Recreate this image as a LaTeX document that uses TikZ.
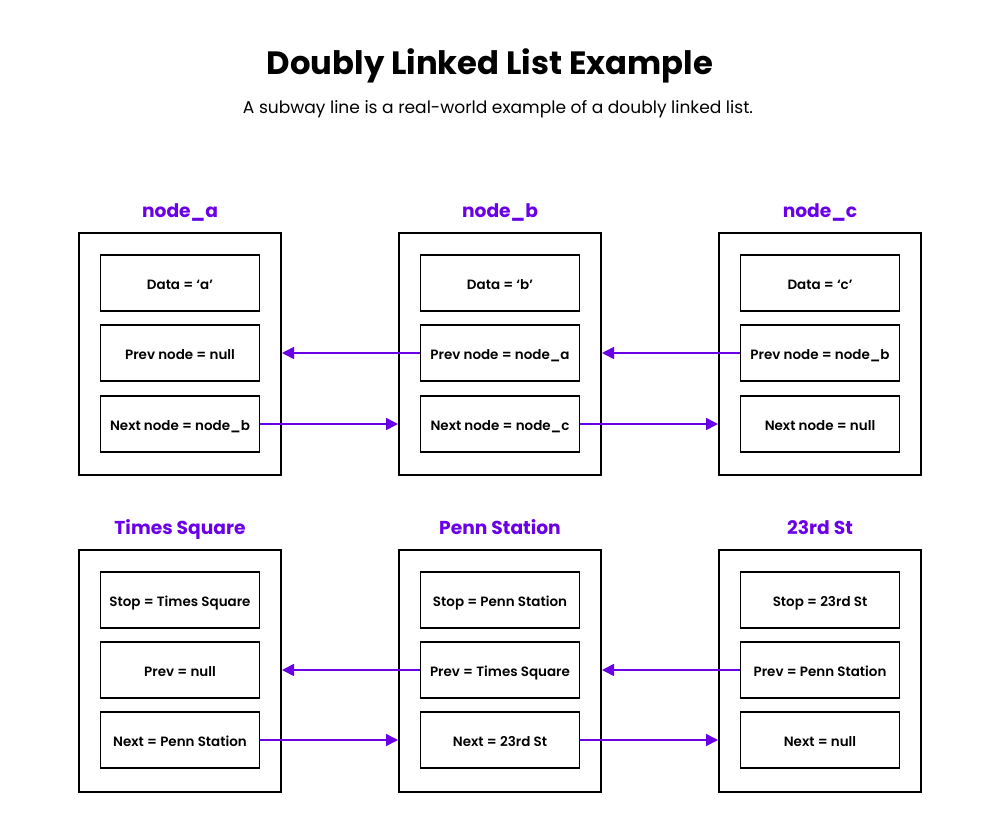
\documentclass[tikz,border=0pt]{standalone}
\usepackage{fontspec}
\setmainfont{Poppins}
\newfontfamily\fieldfont{Poppins SemiBold}
\usetikzlibrary{arrows.meta}
\definecolor{violet}{HTML}{6A00E8}
\begin{document}
\begin{tikzpicture}[x=0.75pt,y=-0.75pt,
  outer/.style={draw=black,line width=1.5pt,minimum width=202*0.75pt,minimum height=242*0.75pt,inner sep=0pt},
  field/.style={draw=black,line width=1.3pt,minimum width=159*0.75pt,minimum height=56*0.75pt,inner sep=0pt,
    text height=10.2pt,text depth=0pt,font=\fieldfont\fontsize{10.1}{12}\selectfont},
  head/.style={text=violet,anchor=base,inner sep=0pt,font=\fontsize{14}{17}\selectfont\bfseries},
  link/.style={draw=violet,line width=1.2pt,-{Triangle[length=9pt,width=9pt]}}]
\useasboundingbox (0,0) rectangle (1005,834);
\node[font=\fontsize{24.2}{29}\selectfont\bfseries] (title) at (490,66) {Doubly Linked List Example};
\node[font=\fontsize{12.8}{15}\selectfont] (sub) at (498,109) {A subway line is a real-world example of a doubly linked list.};

% top row: abstract nodes
\foreach \n/\x/\lab/\d/\p/\q in {a/180/node\_a/Data = ‘a’/Prev node = null/Next node = node\_b,
                                  b/500/node\_b/Data = ‘b’/Prev node = node\_a/Next node = node\_c,
                                  c/820/node\_c/Data = ‘c’/Prev node = node\_b/Next node = null}{
  \node[head] (h\n) at (\x,218) {\lab};
  \node[outer] (o\n) at (\x,354) {};
  \node[field] (d\n) at (\x,283) {\d};
  \node[field] (p\n) at (\x,353) {\p};
  \node[field] (x\n) at (\x,424) {\q};
}
% bottom row: subway stops
\foreach \n/\x/\lab/\d/\p/\q in {a/180/Times Square/Stop = Times Square/Prev = null/Next = Penn Station,
                                  b/500/Penn Station/Stop = Penn Station/Prev = Times Square/Next = 23rd St,
                                  c/820/23rd St/Stop = 23rd St/Prev = Penn Station/Next = null}{
  \node[head] (H\n) at (\x,534) {\lab};
  \node[outer] (O\n) at (\x,670.5) {};
  \node[field] (D\n) at (\x,600) {\d};
  \node[field] (P\n) at (\x,670) {\p};
  \node[field] (X\n) at (\x,740) {\q};
}

% links
\draw[link] (pb.west) -- (pb.west -| oa.east);
\draw[link] (pc.west) -- (pc.west -| ob.east);
\draw[link] (xa.east) -- (xa.east -| ob.west);
\draw[link] (xb.east) -- (xb.east -| oc.west);
\draw[link] (Pb.west) -- (Pb.west -| Oa.east);
\draw[link] (Pc.west) -- (Pc.west -| Ob.east);
\draw[link] (Xa.east) -- (Xa.east -| Ob.west);
\draw[link] (Xb.east) -- (Xb.east -| Oc.west);
\end{tikzpicture}
\end{document}
